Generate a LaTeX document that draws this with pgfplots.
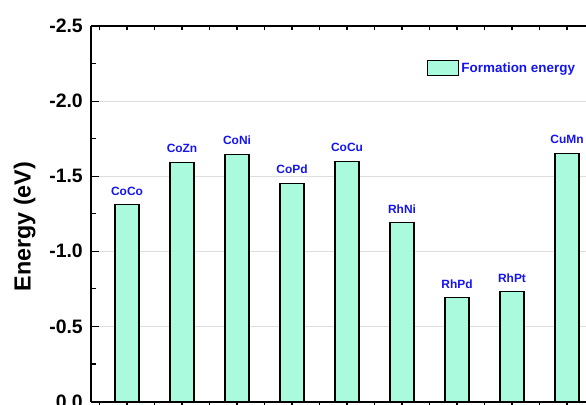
\documentclass[border=0pt]{standalone}
\usepackage{fontspec}
\setmainfont{Liberation Sans}
\usepackage{pgfplots}
\pgfplotsset{compat=1.18}
\usepackage{pgfplotstable}
\definecolor{barfill}{RGB}{170,250,222}
\definecolor{lblblue}{RGB}{20,20,240}
\definecolor{gridgray}{RGB}{222,222,222}

\pgfplotstableread{
x y label
0 -1.31 CoCo
1 -1.59 CoZn
2 -1.645 CoNi
3 -1.45 CoPd
4 -1.60 CoCu
5 -1.19 RhNi
6 -0.69 RhPd
7 -0.73 RhPt
8 -1.65 CuMn
}\datatable

\pgfplotsset{frameaxis/.style={
  x=55bp, y=150.2bp, y dir=reverse,
  xmin=-0.655, xmax=8.7, ymin=-2.5, ymax=0,
  axis line style={line width=2bp},
  tick style={line width=1.2bp, black},
}}

\begin{document}
\begin{tikzpicture}
\begin{axis}[
  frameaxis,
  axis y line*=left,
  xtick=\empty,
  ytick={-2.5,-2,-1.5,-1,-0.5,0},
  yticklabels={-2.5,-2.0,-1.5,-1.0,-0.5,0.0},
  minor y tick num=1,
  tick align=inside,
  major tick length=8bp, minor tick length=5bp,
  ymajorgrids, grid style={gridgray, line width=1bp},
  yticklabel style={font=\bfseries\fontsize{19.5}{20}\selectfont, anchor=east, inner sep=0pt, xshift=-8bp},
  ybar, bar width=24bp,
  legend style={draw=none, fill=none, at={(axis cs:5.455,-2.22)}, anchor=west, inner sep=0pt,
    font=\bfseries\fontsize{13.5}{14}\selectfont, text=lblblue,
    /tikz/every even column/.append style={column sep=5bp}},
  legend cell align=left,
]
\addplot[fill=barfill, draw=black, line width=1.2bp,
  nodes near coords={\pgfplotspointmeta},
  point meta=explicit symbolic,
  nodes near coords align={anchor=south},
  every node near coord/.append style={font=\bfseries\fontsize{12}{12}\selectfont, text=lblblue, anchor=south, inner sep=0pt, yshift=9bp},
  legend image code/.code={\draw[fill=barfill, draw=black, line width=1.2bp] (0bp,-7.5bp) rectangle (31bp,7.5bp);}
] table[x=x, y=y, meta=label] {\datatable};
\addlegendentry{Formation energy}
\coordinate (bl) at (axis cs:-0.655,0);
\end{axis}
\begin{axis}[
  frameaxis,
  axis y line=none, axis x line*=bottom,
  xtick={-0.5,0,...,8.5}, xticklabels={},
  tick align=outside, major tick length=5bp,
]
\addplot[draw=none] coordinates {(0,0)};
\end{axis}
\begin{axis}[
  frameaxis,
  axis y line=none, axis x line*=top,
  xtick={-0.5,0,...,8.5}, xticklabels={},
  tick align=inside, major tick length=4bp,
]
\addplot[draw=none] coordinates {(0,0)};
\end{axis}
\node[rotate=90, anchor=base, font=\bfseries\fontsize{23.4}{24}\selectfont] at ([shift={(-60.3bp,174.8bp)}]bl) {Energy (eV)};
\pgfresetboundingbox
\path[use as bounding box] ([shift={(-91bp,-3.5bp)}]bl) rectangle ([shift={(495bp,401.5bp)}]bl);
\end{tikzpicture}
\end{document}
